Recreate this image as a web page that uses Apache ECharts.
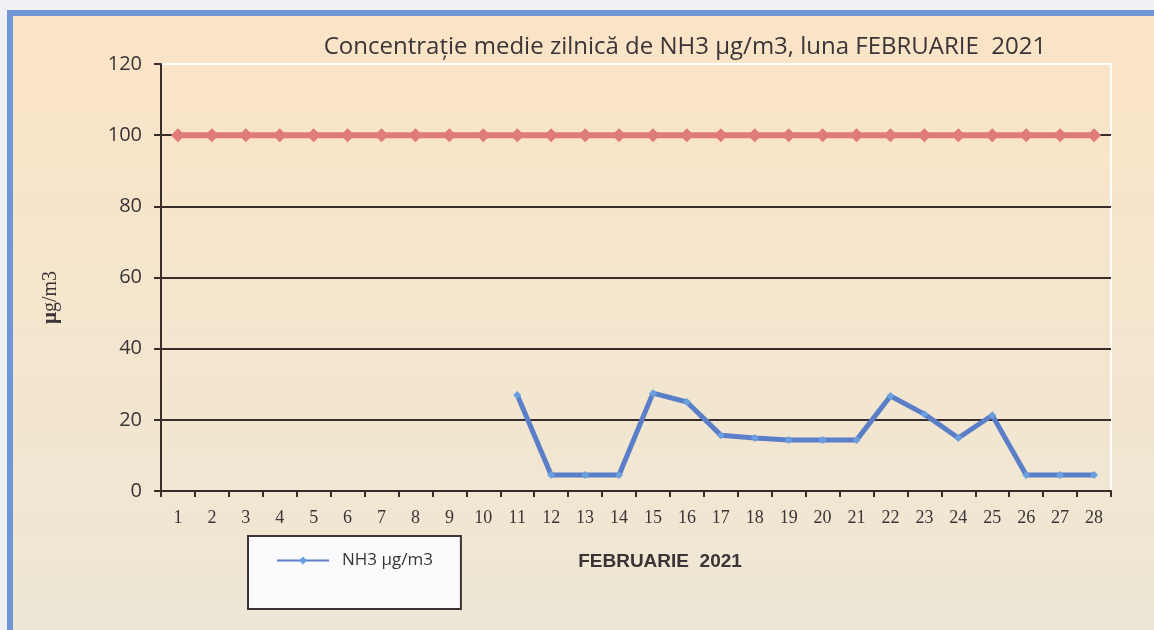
<!DOCTYPE html>
<html lang="ro" style="height: 100%">

<head>
    <meta charset="utf-8" />
    <script src="https://cdn.jsdelivr.net/npm/echarts@6/dist/echarts.min.js"></script>
</head>

<body style="height: 100%; margin: 0">
    <div id="container" style="width: 1154px;height: 630px;"></div>
    <script type="text/javascript">
        // date din grafic
        const zile = ['1', '2', '3', '4', '5', '6', '7', '8', '9', '10', '11', '12', '13', '14',
            '15', '16', '17', '18', '19', '20', '21', '22', '23', '24', '25', '26', '27', '28'];
        const valoriNH3 = [null, null, null, null, null, null, null, null, null, null,
            27, 4.5, 4.5, 4.5, 27.5, 25, 15.7, 14.9, 14.3, 14.3, 14.3, 26.7, 21.6, 14.9, 21.3, 4.5, 4.5, 4.5];
        const valoareLimita = [100, 100, 100, 100, 100, 100, 100, 100, 100, 100, 100, 100, 100, 100,
            100, 100, 100, 100, 100, 100, 100, 100, 100, 100, 100, 100, 100, 100];
        const yTicks = [0, 20, 40, 60, 80, 100, 120];

        var dom = document.getElementById('container');
        var myChart = echarts.init(dom, null, { renderer: 'canvas' });

        var option = {
            backgroundColor: '#eef0f6',
            animation: false,
            graphic: [{
                    type: 'rect',
                    z: -10,
                    shape: { x: 10, y: 13, width: 1160, height: 640 },
                    style: {
                        fill: new echarts.graphic.LinearGradient(0, 0, 0, 1, [
                            { offset: 0, color: '#fbe4c6' },
                            { offset: 1, color: '#ede7d6' }
                        ]),
                        stroke: '#6f97d8',
                        lineWidth: 6
                    }
                },
                {
                    type: 'polyline',
                    z: -5,
                    shape: { points: [[161, 64], [1111, 64], [1111, 491]] },
                    style: { stroke: '#ffffff', lineWidth: 2, fill: null }
                }
            ],
            title: {
                text: 'Concentraţie medie zilnică de NH3 µg/m3, luna FEBRUARIE  2021',
                left: 680,
                textAlign: 'center',
                top: 30,
                textStyle: {
                    fontFamily: 'Open Sans',
                    fontWeight: 'normal',
                    fontSize: 24,
                    color: '#3a3436'
                }
            },
            grid: {
                left: 161,
                right: 43,
                top: 64,
                bottom: 139
            },
            legend: {
                data: ['NH3 µg/m3'],
                left: 248,
                top: 536,
                orient: 'vertical',
                backgroundColor: '#fbfbfd',
                borderColor: '#3d3335',
                borderWidth: 2,
                padding: [16, 28, 40, 28],
                itemWidth: 52,
                itemHeight: 10,
                itemGap: 10,
                textStyle: {
                    fontFamily: 'Open Sans',
                    fontSize: 17,
                    color: '#3a3436',
                    padding: [0, 0, 0, 8]
                }
            },
            xAxis: {
                type: 'category',
                data: zile,
                boundaryGap: true,
                name: 'FEBRUARIE  2021',
                nameLocation: 'middle',
                nameGap: 61,
                nameTextStyle: {
                    fontFamily: 'Liberation Sans',
                    fontWeight: 'bold',
                    fontSize: 19,
                    color: '#3a3436',
                    padding: [0, 0, 0, 48]
                },
                axisLine: { lineStyle: { color: '#3b2c2c', width: 2 } },
                axisTick: { show: true, length: 6, lineStyle: { color: '#3b2c2c', width: 2 } },
                axisLabel: {
                    margin: 18,
                    fontFamily: 'Liberation Serif',
                    fontSize: 18,
                    color: '#3a3436'
                },
                splitLine: { show: false }
            },
            yAxis: {
                type: 'value',
                min: yTicks[0],
                max: yTicks[yTicks.length - 1],
                interval: 20,
                name: '{b|µ}g/m3',
                nameLocation: 'middle',
                nameRotate: 90,
                nameGap: 100,
                nameTextStyle: {
                    fontFamily: 'Liberation Serif',
                    fontSize: 20,
                    color: '#3a3436',
                    padding: [0, 40, 0, 0],
                    rich: {
                        b: {
                            fontFamily: 'Liberation Serif',
                            fontWeight: 'bold',
                            fontSize: 21,
                            color: '#3a3436'
                        }
                    }
                },
                axisLine: { show: true, lineStyle: { color: '#3b2c2c', width: 2 } },
                axisTick: { show: true, length: 7, lineStyle: { color: '#3b2c2c', width: 2 } },
                axisLabel: {
                    margin: 19,
                    fontFamily: 'Open Sans',
                    fontSize: 20,
                    color: '#3a3436'
                },
                splitLine: {
                    show: true,
                    lineStyle: {
                        color: ['#3b2c2c', '#3b2c2c', '#3b2c2c', '#3b2c2c', '#3b2c2c', '#3b2c2c', '#ffffff'],
                        width: 2
                    }
                }
            },
            series: [{
                    name: 'Valoare limită',
                    type: 'line',
                    data: valoareLimita,
                    symbol: 'diamond',
                    symbolSize: 14,
                    color: '#e07b7b',
                    lineStyle: { width: 6, color: '#e07b7b' },
                    itemStyle: { color: '#e07b7b' },
                    z: 3
                },
                {
                    name: 'NH3 µg/m3',
                    type: 'line',
                    data: valoriNH3,
                    symbol: 'diamond',
                    symbolSize: 8,
                    connectNulls: false,
                    color: '#5a7fc8',
                    lineStyle: { width: 5, color: '#5a7fc8' },
                    itemStyle: { color: '#6aa0e0' },
                    z: 4
                }
            ]
        };

        if (option && typeof option === 'object') {
            myChart.setOption(option);
        }

        window.addEventListener('resize', myChart.resize);
    </script>
</body>

</html>
